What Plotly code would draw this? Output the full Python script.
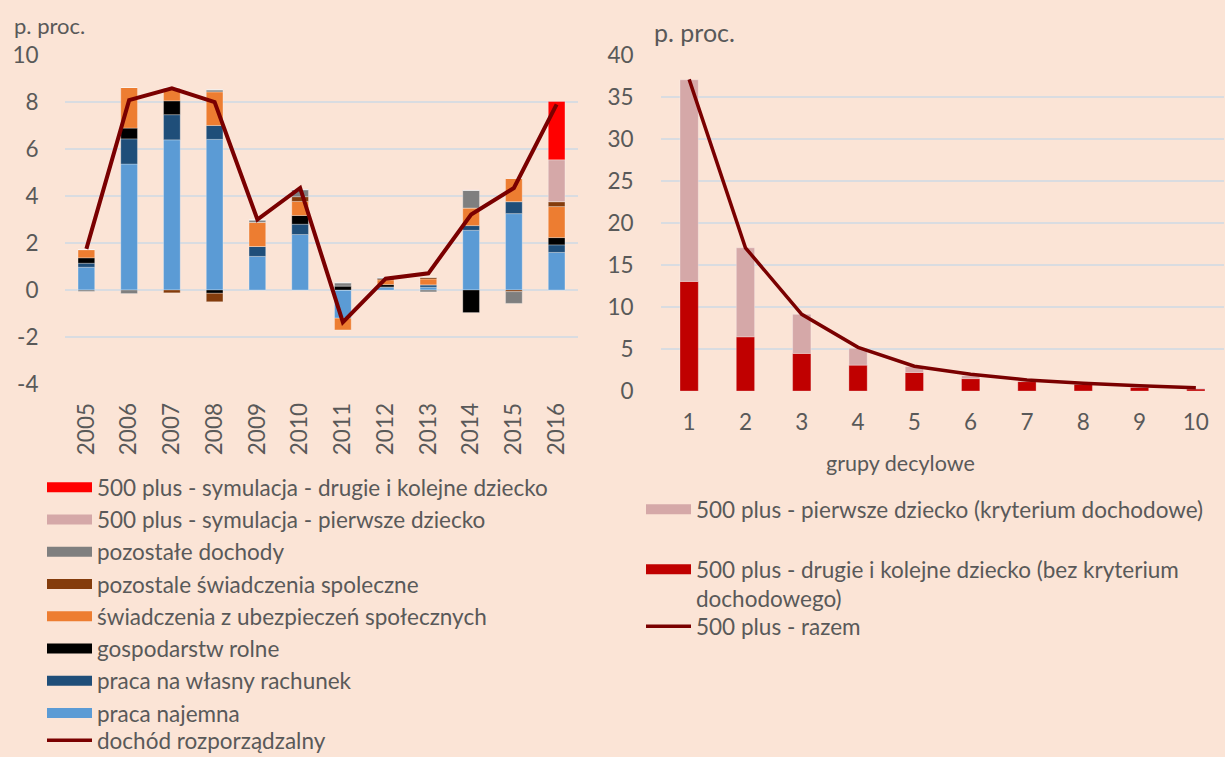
import plotly.graph_objects as go

# ---------------- data: left chart ----------------
years = ['2005', '2006', '2007', '2008', '2009', '2010', '2011', '2012', '2013', '2014', '2015', '2016']
praca_najemna = [0.97, 5.36, 6.39, 6.41, 1.43, 2.36, -1.20, 0.10, 0.12, 2.54, 3.25, 1.60]
praca_wlasny = [0.17, 1.07, 1.07, 0.59, 0.42, 0.44, 0.00, 0.03, 0.10, 0.20, 0.51, 0.32]
gospodarstwo_rolne = [0.23, 0.46, 0.59, -0.14, 0.00, 0.37, 0.17, 0.10, 0.00, -0.96, 0.00, 0.31]
swiadczenia_ubezp = [0.35, 1.73, 0.55, 1.43, 1.03, 0.60, -0.50, 0.20, 0.25, 0.75, 0.99, 1.32]
pozostale_swiadczenia = [0.00, 0.00, -0.12, -0.36, 0.00, 0.20, 0.00, 0.05, 0.07, 0.00, -0.07, 0.21]
pozostale_dochody = [-0.06, -0.15, 0.00, 0.09, 0.10, 0.30, 0.14, 0.05, -0.08, 0.75, -0.50, 0.00]
plus_pierwsze_sym = [0, 0, 0, 0, 0, 0, 0, 0, 0, 0, 0, 1.78]
plus_drugie_sym = [0, 0, 0, 0, 0, 0, 0, 0, 0, 0, 0, 2.48]
dochod_rozporzadzalny = [1.75, 8.08, 8.58, 8.00, 3.00, 4.34, -1.37, 0.48, 0.71, 3.21, 4.34, 7.90]
left_tickvals = [-4, -2, 0, 2, 4, 6, 8, 10]
left_ticktext = ['-4', '-2', '0', '2', '4', '6', '8', '10']

# ---------------- data: right chart ----------------
decyle = ['1', '2', '3', '4', '5', '6', '7', '8', '9', '10']
plus_drugie = [13.05, 6.45, 4.47, 3.08, 2.20, 1.47, 1.12, 0.80, 0.44, 0.24]
plus_pierwsze = [24.00, 10.60, 4.66, 2.00, 0.70, 0.35, 0.15, 0.10, 0.10, 0.08]
plus_razem = [37.10, 17.05, 9.13, 5.20, 2.95, 2.00, 1.32, 0.92, 0.63, 0.40]

W, H = 1225, 757
BG = '#FBE4D6'
TXT = '#595959'
GRID = '#D9DCE1'
FONT = 'Lato'
LINE_COL = '#7A0000'
FS = 22.5

def px(x):
    return x / W

def py(y):
    return 1 - y / H

fig = go.Figure()

left_series = [
    ('praca najemna', praca_najemna, '#5B9BD5'),
    ('praca na własny rachunek', praca_wlasny, '#1F4E79'),
    ('gospodarstw rolne', gospodarstwo_rolne, '#000000'),
    ('świadczenia z ubezpieczeń społecznych', swiadczenia_ubezp, '#ED7D31'),
    ('pozostale świadczenia spoleczne', pozostale_swiadczenia, '#843C0C'),
    ('pozostałe dochody', pozostale_dochody, '#7F7F7F'),
    ('500 plus - symulacja - pierwsze dziecko', plus_pierwsze_sym, '#D5A8A8'),
    ('500 plus - symulacja - drugie i kolejne dziecko', plus_drugie_sym, '#FF0000'),
]

for name, vals, col in left_series:
    fig.add_trace(go.Bar(x=years, y=vals, name=name,
                         marker=dict(color=col, line=dict(width=0.8, color='rgba(255,255,255,0.35)')),
                         width=0.39, xaxis='x', yaxis='y', showlegend=False))
fig.add_trace(go.Scatter(x=years, y=dochod_rozporzadzalny, name='dochód rozporządzalny', mode='lines',
                         line=dict(color=LINE_COL, width=4), xaxis='x', yaxis='y', showlegend=False))

# legend entries (left), in the reference order
for name, vals, col in reversed(left_series):
    fig.add_trace(go.Scatter(x=[None], y=[None], mode='lines', name=name, legend='legend',
                             line=dict(color=col, width=13), legendgroup=name, xaxis='x', yaxis='y'))
fig.add_trace(go.Scatter(x=[None], y=[None], mode='lines', name='dochód rozporządzalny', legend='legend5',
                         line=dict(color=LINE_COL, width=3.5), xaxis='x', yaxis='y'))

# right chart
fig.add_trace(go.Bar(x=decyle, y=plus_drugie,
                     name='500 plus - drugie i kolejne dziecko (bez kryterium<br>dochodowego)',
                     marker=dict(color='#C00000', line=dict(width=0.8, color='rgba(255,255,255,0.35)')),
                     width=0.325, xaxis='x2', yaxis='y2', showlegend=False))
fig.add_trace(go.Bar(x=decyle, y=plus_pierwsze, name='500 plus - pierwsze dziecko (kryterium dochodowe)',
                     marker=dict(color='#D5A8A8', line=dict(width=0.8, color='rgba(255,255,255,0.35)')),
                     width=0.325, xaxis='x2', yaxis='y2', showlegend=False))
fig.add_trace(go.Scatter(x=decyle, y=plus_razem, name='500 plus - razem', mode='lines',
                         line=dict(color=LINE_COL, width=3.5), xaxis='x2', yaxis='y2', showlegend=False))

fig.add_trace(go.Scatter(x=[None], y=[None], mode='lines', name='500 plus - pierwsze dziecko (kryterium dochodowe)',
                         legend='legend2', line=dict(color='#D5A8A8', width=13), xaxis='x2', yaxis='y2'))
fig.add_trace(go.Scatter(x=[None], y=[None], mode='lines',
                         name='500 plus - drugie i kolejne dziecko (bez kryterium<br>dochodowego)',
                         legend='legend3', line=dict(color='#C00000', width=13),
                         xaxis='x2', yaxis='y2'))
fig.add_trace(go.Scatter(x=[None], y=[None], mode='lines', name='500 plus - razem',
                         legend='legend4', line=dict(color=LINE_COL, width=3.5),
                         xaxis='x2', yaxis='y2'))

tickfont = dict(family=FONT, size=FS, color=TXT)
legfont = dict(family=FONT, size=FS, color=TXT)

common_leg = dict(xanchor='left', yanchor='top', font=legfont,
                  bgcolor='rgba(0,0,0,0)', itemwidth=45, itemclick=False, itemdoubleclick=False)

fig.update_layout(
    width=W, height=H,
    margin=dict(l=0, r=0, t=0, b=0, autoexpand=False),
    paper_bgcolor=BG, plot_bgcolor=BG,
    barmode='relative',
    font=dict(family=FONT, color=TXT),
    xaxis=dict(domain=[px(65), px(578)], anchor='y', type='category', tickangle=-90, tickfont=tickfont,
               ticks='outside', ticklen=9, tickcolor='rgba(0,0,0,0)', showgrid=False, zeroline=False,
               showline=False, automargin=False),
    yaxis=dict(domain=[py(384), py(55)], anchor='x', range=[-4, 10], tickvals=left_tickvals,
               ticktext=left_ticktext, tickfont=tickfont,
               ticks='outside', ticklen=21, tickcolor='rgba(0,0,0,0)', gridcolor=GRID, gridwidth=1.5,
               zeroline=False, showline=False, automargin=False),
    xaxis2=dict(domain=[px(661), px(1224)], anchor='y2', type='category', tickfont=tickfont,
                ticks='outside', ticklen=11, tickcolor='rgba(0,0,0,0)', showgrid=False, zeroline=False,
                showline=False, automargin=False),
    yaxis2=dict(domain=[py(391), py(55)], anchor='x2', range=[0, 40], dtick=5, tickfont=tickfont,
                ticks='outside', ticklen=22, tickcolor='rgba(0,0,0,0)', gridcolor=GRID, gridwidth=1.5,
                zeroline=False, showline=False, automargin=False),
    legend=dict(x=px(42), y=py(466), traceorder='grouped', tracegroupgap=0, **common_leg),
    legend5=dict(x=px(42), y=py(719), **common_leg),
    legend2=dict(x=px(641), y=py(488), **common_leg),
    legend3=dict(x=px(641), y=py(548), valign='top', **common_leg),
    legend4=dict(x=px(641), y=py(605), **common_leg),
    annotations=[
        dict(text='p. proc.', x=px(12), y=py(25), xref='paper', yref='paper', xanchor='left', yanchor='middle',
             showarrow=False, font=dict(family=FONT, size=22, color=TXT)),
        dict(text='p. proc.', x=px(652), y=py(32), xref='paper', yref='paper', xanchor='left', yanchor='middle',
             showarrow=False, font=dict(family=FONT, size=25, color=TXT)),
        dict(text='grupy decylowe', x=px(900), y=py(463), xref='paper', yref='paper', xanchor='center',
             yanchor='middle', showarrow=False, font=dict(family=FONT, size=21.5, color=TXT)),
    ],
)

fig.write_html('out.html', config={'displayModeBar': False},
               post_script="document.body.style.margin='0';document.documentElement.style.overflow='hidden';")
